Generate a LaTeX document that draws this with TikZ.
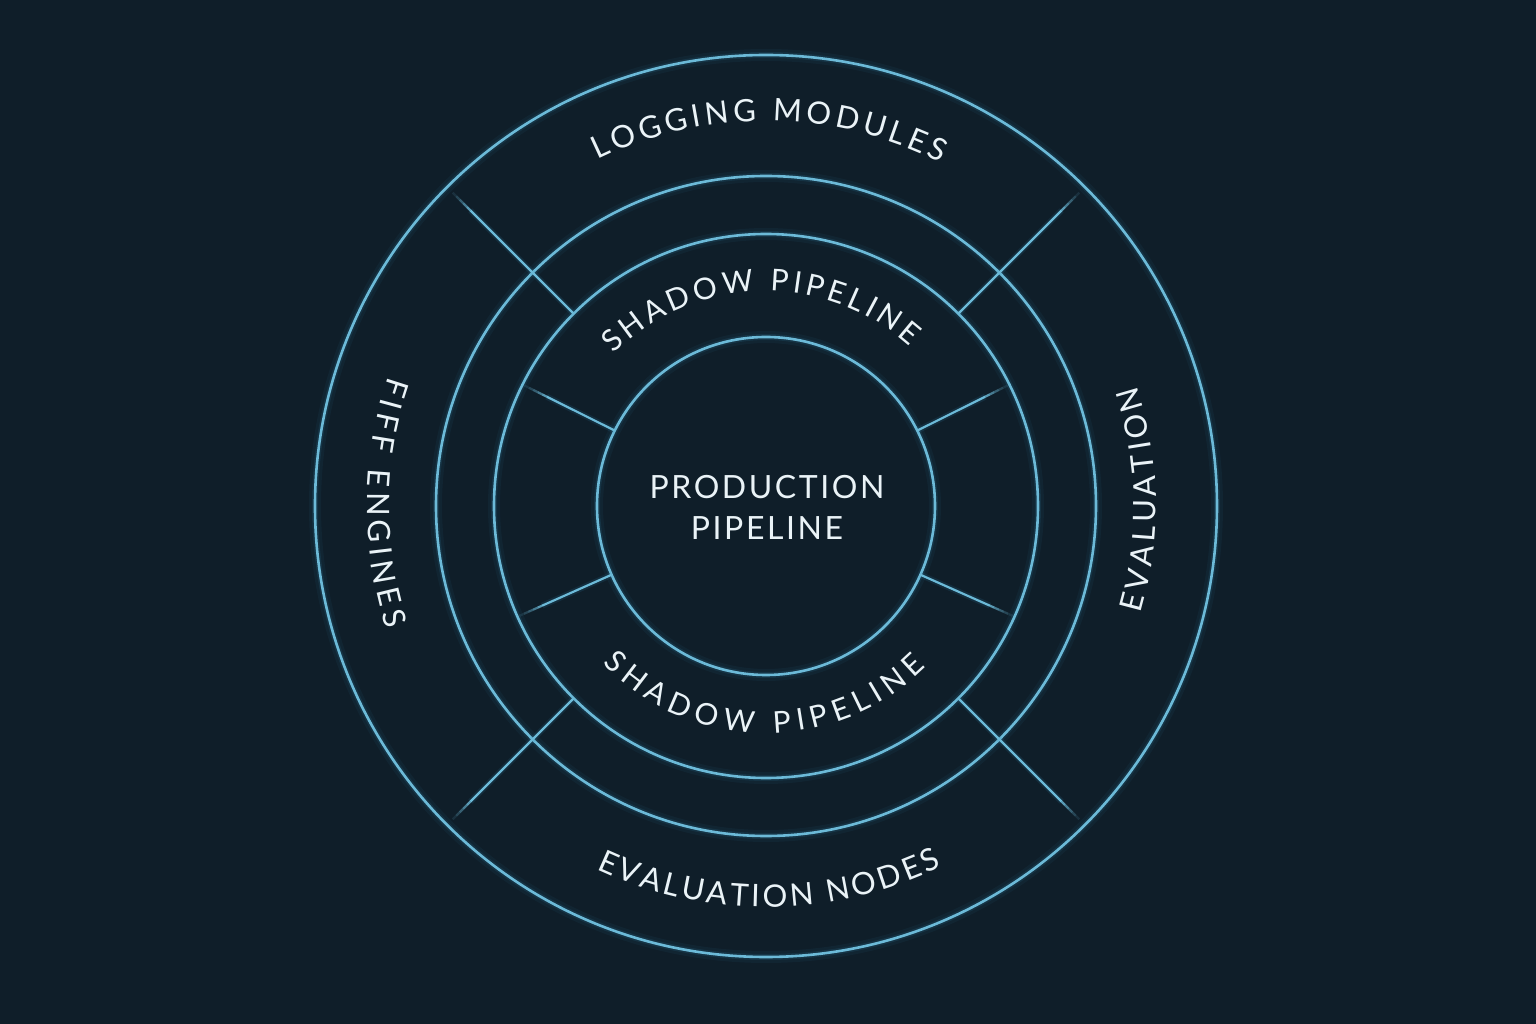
\documentclass[tikz,border=0pt]{standalone}
\usepackage{fontspec}
\newfontfamily\lbl{Lato}
\newfontfamily\lblsp[LetterSpace=8]{Lato}
\usetikzlibrary{decorations.text}
\definecolor{bg}{HTML}{0F1E29}
\definecolor{ring}{HTML}{6CBAD8}
\definecolor{glow}{HTML}{2F86B0}
\definecolor{txt}{HTML}{EAF3F7}
\tikzset{
  ringline/.style={draw=ring, line width=2.6pt},
  glowA/.style={draw=glow, line width=12pt, opacity=0.07},
  glowB/.style={draw=glow, line width=6pt, opacity=0.15},
  arclabel/.style={decorate, decoration={text along path, text align=fit to path, text color=txt}},
}
\begin{document}
\begin{tikzpicture}[x=1pt,y=1pt]
\fill[bg] (-766,-518) rectangle (770,506);
\useasboundingbox (-766,-518) rectangle (770,506);
% rings
\foreach \r in {451,330,272,169} {
  \draw[glowA] (0,0) circle[radius=\r];
  \draw[glowB] (0,0) circle[radius=\r];
  \draw[ringline] (0,0) circle[radius=\r];
}
% diagonal dividers (outer band), fading toward outer ring
\foreach \a in {45,135,225,315} {
  \draw[glowB] (\a:272) -- (\a:418);
  \draw[ringline, line width=2.2pt] (\a:272) -- (\a:418);
  \foreach \i/\o in {0/0.8,1/0.6,2/0.42,3/0.26,4/0.12} {
    \draw[ring, line width=2.2pt, opacity=\o] (\a:418+5*\i) -- (\a:423+5*\i);
  }
}
% inner dividers, fading toward third ring
\foreach \a in {26.5,153.5,-24,-156} {
  \draw[glowB] (\a:169) -- (\a:245);
  \draw[ringline, line width=2.2pt] (\a:169) -- (\a:245);
  \foreach \i/\o in {0/0.8,1/0.6,2/0.42,3/0.26,4/0.12} {
    \draw[ring, line width=2.2pt, opacity=\o] (\a:245+5*\i) -- (\a:250+5*\i);
  }
}
% curved labels
\path[arclabel, decoration={text={|\lbl\fontsize{31}{33}\selectfont|LOGGING MODULES}}]
  (116:385) arc[start angle=116, end angle=63, radius=385];
\path[arclabel, decoration={text={|\lbl\fontsize{31}{33}\selectfont|EVALUATION NODES}}]
  (-115:401) arc[start angle=-115, end angle=-64, radius=401];
\path[arclabel, decoration={text={|\lbl\fontsize{31}{33}\selectfont|FIFF ENGINES}}]
  (161:399) arc[start angle=161, end angle=198, radius=399];
\path[arclabel, decoration={text={|\lbl\fontsize{31}{33}\selectfont|EVALUATION}}]
  (-16:390) arc[start angle=-16, end angle=18, radius=390];
\path[arclabel, decoration={text={|\lbl\fontsize{30}{32}\selectfont|SHADOW PIPELINE}}]
  (135:215) arc[start angle=135, end angle=48, radius=215];
\path[arclabel, decoration={text={|\lbl\fontsize{30}{32}\selectfont|SHADOW PIPELINE}}]
  (-136:227) arc[start angle=-136, end angle=-45, radius=227];
% centre
\node[font=\lblsp\fontsize{32}{41}\selectfont, text=txt, align=center, inner sep=0pt] (prod) at (1,-1) {PRODUCTION\\PIPELINE};
\end{tikzpicture}
\end{document}
